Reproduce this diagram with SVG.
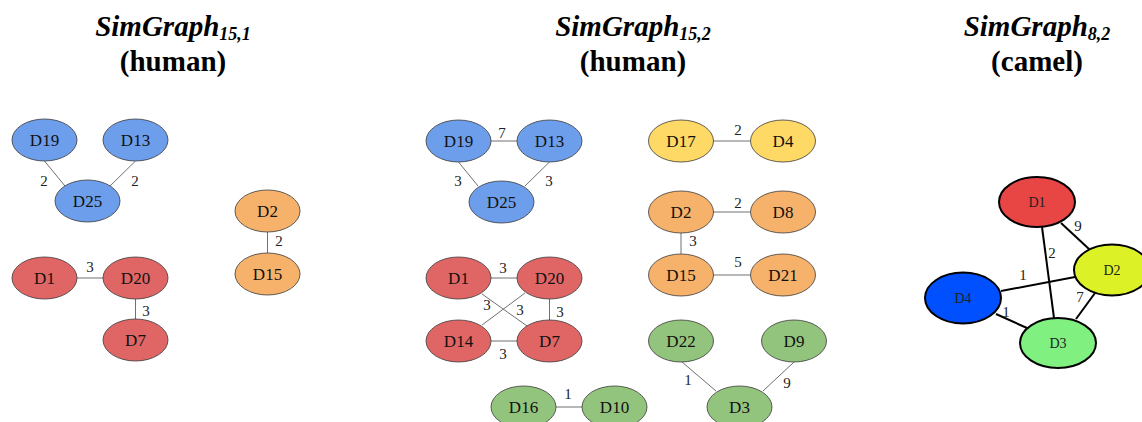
<svg xmlns="http://www.w3.org/2000/svg" width="1142" height="422" viewBox="0 0 1142 422">
  <style>
    .title { font-family: "Liberation Serif", "Times New Roman", serif; font-weight: bold; font-size: 29px; fill: #000; text-anchor: middle; }
    .title .sub { font-size: 18px; }
    .n ellipse { stroke: #3a3a3a; stroke-width: 0.8; }
    .n text { font-family: "Liberation Serif", "Times New Roman", serif; font-size: 17px; fill: #111; text-anchor: middle; dominant-baseline: central; }
    .c ellipse { stroke: #000; stroke-width: 2; }
    .c text { font-family: "Liberation Serif", "Times New Roman", serif; font-size: 14px; fill: #222; text-anchor: middle; dominant-baseline: central; }
    .blue { fill: #6d9eeb; }
    .red { fill: #e06666; }
    .orange { fill: #f6b26b; }
    .yellow { fill: #ffd966; }
    .green { fill: #93c47d; }
    #edges line { stroke: #707070; stroke-width: 1; }
    #edges-camel line { stroke: #000; stroke-width: 2; }
    .w { font-family: "Liberation Serif", "Times New Roman", serif; font-size: 15px; fill: #222; text-anchor: middle; dominant-baseline: central; }
  </style>

  <!-- titles -->
  <text class="title" x="173" y="36"><tspan font-style="italic">SimGraph</tspan><tspan class="sub" font-style="italic" dy="4">15,1</tspan></text>
  <text class="title" x="173" y="71">(human)</text>
  <text class="title" x="633" y="36"><tspan font-style="italic">SimGraph</tspan><tspan class="sub" font-style="italic" dy="4">15,2</tspan></text>
  <text class="title" x="633" y="71">(human)</text>
  <text class="title" x="1037" y="36"><tspan font-style="italic">SimGraph</tspan><tspan class="sub" font-style="italic" dy="4">8,2</tspan></text>
  <text class="title" x="1037" y="71">(camel)</text>

  <!-- connectors -->
  <g id="edges">
    <!-- graph 15,1 -->
    <line x1="44.5" y1="161" x2="65" y2="186"/>
    <line x1="135.5" y1="161" x2="110" y2="186"/>
    <line x1="267.5" y1="232" x2="267.5" y2="253"/>
    <line x1="77" y1="278" x2="103" y2="278"/>
    <line x1="135.5" y1="299" x2="135.5" y2="319"/>
    <!-- graph 15,2 -->
    <line x1="491" y1="141" x2="517" y2="141"/>
    <line x1="458.5" y1="162" x2="478" y2="186"/>
    <line x1="549.5" y1="162" x2="525" y2="186"/>
    <line x1="713" y1="141" x2="750" y2="141"/>
    <line x1="713" y1="212" x2="750" y2="212"/>
    <line x1="681" y1="233" x2="681" y2="254"/>
    <line x1="713" y1="275" x2="750" y2="275"/>
    <line x1="491" y1="278" x2="517" y2="278"/>
    <line x1="482" y1="294" x2="527" y2="326"/>
    <line x1="525" y1="293" x2="482" y2="325"/>
    <line x1="549.5" y1="299" x2="549.5" y2="320"/>
    <line x1="491" y1="341" x2="517" y2="341"/>
    <line x1="556" y1="407" x2="582" y2="407"/>
    <line x1="682" y1="362" x2="716" y2="391"/>
    <line x1="794" y1="362" x2="763" y2="391"/>
  </g>
  <g id="edges-camel">
    <line x1="1061" y1="223" x2="1089" y2="249"/>
    <line x1="1042" y1="227" x2="1054" y2="318"/>
    <line x1="1001" y1="291" x2="1075" y2="277"/>
    <line x1="1095" y1="293" x2="1076" y2="319"/>
    <line x1="996" y1="314" x2="1027" y2="328"/>
  </g>

  <!-- edge weights -->
  <g id="weights">
    <text class="w" x="44" y="181">2</text>
    <text class="w" x="135" y="181">2</text>
    <text class="w" x="279" y="241">2</text>
    <text class="w" x="90" y="267">3</text>
    <text class="w" x="146" y="311">3</text>
    <text class="w" x="502" y="133">7</text>
    <text class="w" x="458" y="181">3</text>
    <text class="w" x="549" y="181">3</text>
    <text class="w" x="738" y="130">2</text>
    <text class="w" x="738" y="203">2</text>
    <text class="w" x="693" y="241">3</text>
    <text class="w" x="738" y="262">5</text>
    <text class="w" x="503" y="268">3</text>
    <text class="w" x="487" y="305">3</text>
    <text class="w" x="520" y="310">3</text>
    <text class="w" x="560" y="312">3</text>
    <text class="w" x="503" y="354">3</text>
    <text class="w" x="568" y="394">1</text>
    <text class="w" x="688" y="380">1</text>
    <text class="w" x="787" y="383">9</text>
    <text class="w" x="1078" y="226">9</text>
    <text class="w" x="1052" y="253">2</text>
    <text class="w" x="1023" y="275">1</text>
    <text class="w" x="1080" y="297">7</text>
    <text class="w" x="1006" y="312">1</text>
  </g>

  <!-- SimGraph 15,1 nodes -->
  <g id="g1-D19" class="n"><ellipse class="blue" cx="44.5" cy="140" rx="32.5" ry="21"/><text x="44.5" y="140">D19</text></g>
  <g id="g1-D13" class="n"><ellipse class="blue" cx="135.5" cy="140" rx="32.5" ry="21"/><text x="135.5" y="140">D13</text></g>
  <g id="g1-D25" class="n"><ellipse class="blue" cx="87.5" cy="201" rx="32.5" ry="21"/><text x="87.5" y="201">D25</text></g>
  <g id="g1-D2" class="n"><ellipse class="orange" cx="267.5" cy="211" rx="32.5" ry="21"/><text x="267.5" y="211">D2</text></g>
  <g id="g1-D15" class="n"><ellipse class="orange" cx="267.5" cy="274" rx="32.5" ry="21"/><text x="267.5" y="274">D15</text></g>
  <g id="g1-D1" class="n"><ellipse class="red" cx="44.5" cy="278" rx="32.5" ry="21"/><text x="44.5" y="278">D1</text></g>
  <g id="g1-D20" class="n"><ellipse class="red" cx="135.5" cy="278" rx="32.5" ry="21"/><text x="135.5" y="278">D20</text></g>
  <g id="g1-D7" class="n"><ellipse class="red" cx="135.5" cy="340" rx="32.5" ry="21"/><text x="135.5" y="340">D7</text></g>

  <!-- SimGraph 15,2 nodes -->
  <g id="g2-D19" class="n"><ellipse class="blue" cx="458.5" cy="141" rx="32.5" ry="21"/><text x="458.5" y="141">D19</text></g>
  <g id="g2-D13" class="n"><ellipse class="blue" cx="549.5" cy="141" rx="32.5" ry="21"/><text x="549.5" y="141">D13</text></g>
  <g id="g2-D25" class="n"><ellipse class="blue" cx="501.5" cy="202" rx="32.5" ry="21"/><text x="501.5" y="202">D25</text></g>
  <g id="g2-D17" class="n"><ellipse class="yellow" cx="681" cy="141" rx="32.5" ry="21"/><text x="681" y="141">D17</text></g>
  <g id="g2-D4" class="n"><ellipse class="yellow" cx="783" cy="141" rx="32.5" ry="21"/><text x="783" y="141">D4</text></g>
  <g id="g2-D2" class="n"><ellipse class="orange" cx="681" cy="212" rx="32.5" ry="21"/><text x="681" y="212">D2</text></g>
  <g id="g2-D8" class="n"><ellipse class="orange" cx="783" cy="212" rx="32.5" ry="21"/><text x="783" y="212">D8</text></g>
  <g id="g2-D15" class="n"><ellipse class="orange" cx="681" cy="275" rx="32.5" ry="21"/><text x="681" y="275">D15</text></g>
  <g id="g2-D21" class="n"><ellipse class="orange" cx="783" cy="275" rx="32.5" ry="21"/><text x="783" y="275">D21</text></g>
  <g id="g2-D1" class="n"><ellipse class="red" cx="458.5" cy="278" rx="32.5" ry="21"/><text x="458.5" y="278">D1</text></g>
  <g id="g2-D20" class="n"><ellipse class="red" cx="549.5" cy="278" rx="32.5" ry="21"/><text x="549.5" y="278">D20</text></g>
  <g id="g2-D14" class="n"><ellipse class="red" cx="458.5" cy="341" rx="32.5" ry="21"/><text x="458.5" y="341">D14</text></g>
  <g id="g2-D7" class="n"><ellipse class="red" cx="549.5" cy="341" rx="32.5" ry="21"/><text x="549.5" y="341">D7</text></g>
  <g id="g2-D22" class="n"><ellipse class="green" cx="681" cy="341" rx="32.5" ry="21"/><text x="681" y="341">D22</text></g>
  <g id="g2-D9" class="n"><ellipse class="green" cx="794" cy="341" rx="32.5" ry="21"/><text x="794" y="341">D9</text></g>
  <g id="g2-D16" class="n"><ellipse class="green" cx="523.5" cy="407" rx="32.5" ry="21"/><text x="523.5" y="407">D16</text></g>
  <g id="g2-D10" class="n"><ellipse class="green" cx="614.5" cy="407" rx="32.5" ry="21"/><text x="614.5" y="407">D10</text></g>
  <g id="g2-D3" class="n"><ellipse class="green" cx="739.5" cy="407" rx="32.5" ry="21"/><text x="739.5" y="407">D3</text></g>

  <!-- SimGraph 8,2 nodes -->
  <g id="g3-D1" class="c"><ellipse fill="#e84545" cx="1037" cy="202" rx="38" ry="25"/><text x="1037" y="202">D1</text></g>
  <g id="g3-D2" class="c"><ellipse fill="#dcf226" cx="1112" cy="270" rx="38" ry="25.5"/><text x="1112" y="270">D2</text></g>
  <g id="g3-D4" class="c"><ellipse fill="#0050ff" cx="963" cy="298" rx="38" ry="25.5"/><text x="963" y="298">D4</text></g>
  <g id="g3-D3" class="c"><ellipse fill="#80f080" cx="1058" cy="343" rx="38" ry="25"/><text x="1058" y="343">D3</text></g>
</svg>
